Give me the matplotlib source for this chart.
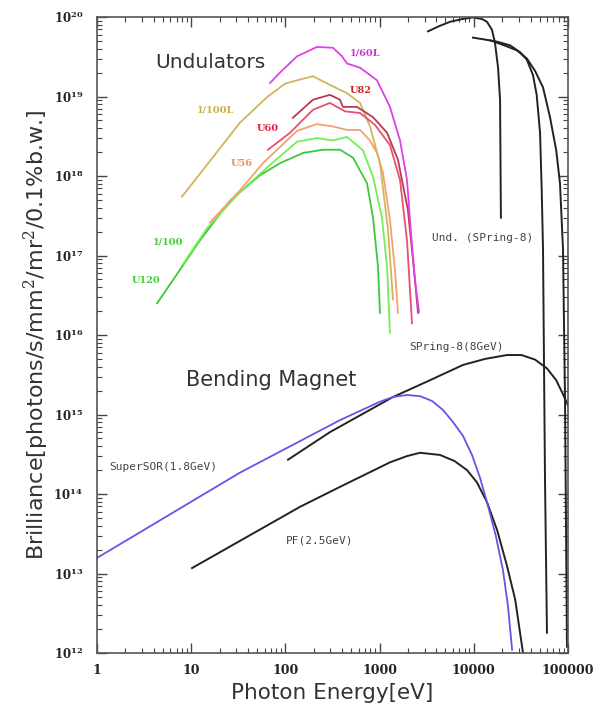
import math
import matplotlib
matplotlib.use("Agg")
import matplotlib.pyplot as plt
from matplotlib.ticker import FuncFormatter, LogLocator, FixedLocator, NullFormatter

plt.rcParams['mathtext.fontset'] = 'dejavuserif'

# ---------------- data (energy in eV, brilliance) ----------------
# Undulators
u60l_E = [68.7, 87.6, 133, 216, 320, 399, 451, 620, 938, 1288, 1648, 1954, 2155, 2377, 2620]
u60l_B = [1.48e19, 2.0e19, 3.2e19, 4.2e19, 4.1e19, 3.2e19, 2.6e19, 2.3e19, 1.6e19, 7.4e18,
          2.8e18, 8.9e17, 1.9e17, 4.9e16, 1.95e16]

u100l_E = [7.98, 33.0, 63.8, 99, 133, 196, 297, 451, 620, 791, 1009, 1228, 1388]
u100l_B = [5.5e17, 4.7e18, 9.8e18, 1.45e19, 1.6e19, 1.8e19, 1.4e19, 1.1e19, 8.3e18, 4.2e18,
           1.45e18, 2.1e17, 2.8e16]

u82_E = [120, 196, 297, 380, 408, 575, 851, 1200, 1567, 2000, 2317, 2558]
u82_B = [5.4e18, 9.1e18, 1.05e19, 9.1e18, 7.4e18, 7.4e18, 5.5e18, 3.5e18, 1.6e18, 3.7e17,
         6.6e16, 1.9e16]

u60_E = [65.3, 112, 196, 297, 430, 620, 893, 1288, 1648, 1954, 2208]
u60_B = [2.14e18, 3.5e18, 6.8e18, 8.3e18, 6.5e18, 6.2e18, 4.4e18, 2.45e18, 8.9e17, 1.55e17, 1.4e16]

u56_E = [15.8, 33.0, 57.8, 133, 216, 320, 451, 620, 791, 938, 1086, 1288, 1455, 1567]
u56_B = [2.6e17, 6.6e17, 1.45e18, 3.7e18, 4.5e18, 4.2e18, 3.8e18, 3.8e18, 2.8e18, 1.95e18,
         1.1e18, 2.8e17, 6.6e16, 1.9e16]

u100_E = [8.18, 14.7, 33.0, 68.7, 133, 216, 320, 451, 667, 851, 1059, 1200, 1288]
u100_B = [7.8e16, 2.2e17, 6.3e17, 1.38e18, 2.7e18, 3.0e18, 2.8e18, 3.1e18, 2.1e18, 9.8e17,
          3.0e17, 7.2e16, 1.07e16]

u120_E = [4.34, 12.4, 25.8, 53.7, 87.7, 154, 251, 380, 522, 735, 851, 962, 1009]
u120_B = [2.5e16, 1.55e17, 4.9e17, 1.02e18, 1.45e18, 1.95e18, 2.14e18, 2.14e18, 1.7e18, 8.1e17,
          3.0e17, 7.2e16, 1.9e16]

# SPring-8 undulator
spu1_E = [3266, 4310, 5590, 7470, 9810, 12300, 13800, 15600, 16800, 18100, 19000, 19400]
spu1_B = [6.6e19, 7.7e19, 8.7e19, 9.4e19, 9.9e19, 9.4e19, 8.7e19, 6.9e19, 4.7e19, 2.3e19,
          9.1e18, 3.0e17]

spu2_E = [9810, 13150, 17600, 24300, 31000, 36600, 42500, 46500, 50500, 52600, 54300, 57000, 59800]
spu2_B = [5.5e19, 5.2e19, 4.9e19, 4.4e19, 3.6e19, 2.9e19, 1.86e19, 1.05e19, 3.5e18, 6.6e17,
          1.2e17, 1.5e14, 1.8e12]

spu3_E = [14900, 21000, 28800, 36600, 44700, 54300, 64400, 75000, 82200, 88500, 93000, 97500]
spu3_B = [5.1e19, 4.4e19, 3.8e19, 3.0e19, 2.1e19, 1.3e19, 5.5e18, 2.1e18, 8.1e17, 1.2e17,
          1.5e15, 1.2e12]

# Bending magnets
sp8_E = [106.6, 297, 1388, 3430, 7670, 13150, 22500, 32000, 44700, 59800, 75000, 87300, 100000]
sp8_B = [2.7e14, 6.0e14, 1.66e15, 2.7e15, 4.2e15, 5.0e15, 5.6e15, 5.6e15, 4.9e15, 3.8e15,
         2.7e15, 1.86e15, 1.3e15]

sor_E = [1, 33, 380, 1010, 1388, 1954, 2685, 3600, 4680, 5980, 7670, 9570, 11650, 14100,
         17100, 20400, 23000, 25500]
sor_B = [1.57e13, 1.86e14, 8.5e14, 1.45e15, 1.66e15, 1.76e15, 1.7e15, 1.48e15, 1.15e15, 8.1e14,
         5.4e14, 3.1e14, 1.6e14, 7.2e13, 3.0e13, 1.1e13, 4.0e12, 1.1e12]

pf_E = [10.2, 143, 380, 1288, 1954, 2685, 4375, 6240, 8470, 10800, 13800, 17700, 22300,
        27500, 33300]
pf_B = [1.17e13, 6.9e13, 1.23e14, 2.5e14, 3.0e14, 3.3e14, 3.1e14, 2.6e14, 2.0e14, 1.4e14,
        7.9e13, 3.5e13, 1.3e13, 4.7e12, 1.0e12]

x_ticks = [1, 10, 100, 1000, 10000, 100000]
x_tick_labels = ["1", "10", "100", "1000", "10000", "100000"]
y_exps = [12, 13, 14, 15, 16, 17, 18, 19, 20]

# ---------------- figure ----------------
fig = plt.figure(figsize=(6.04, 7.16), dpi=100)
ax = fig.add_axes([97/604, 1-653/716, 471/604, 636/716])
ax.set_xscale('log')
ax.set_yscale('log')
ax.set_xlim(1, 1e5)
ax.set_ylim(1e12, 1e20)

lw = 1.3
ax.plot(u120_E, u120_B, color='#3cc83c', lw=lw)
ax.plot(u100_E, u100_B, color='#74ee55', lw=lw)
ax.plot(u56_E, u56_B, color='#f5a070', lw=lw)
ax.plot(u100l_E, u100l_B, color='#d2b45a', lw=lw)
ax.plot(u60_E, u60_B, color='#e8506e', lw=lw)
ax.plot(u82_E, u82_B, color='#b83a55', lw=lw)
ax.plot(u60l_E, u60l_B, color='#e040e8', lw=lw)

for E, B in [(spu1_E, spu1_B), (spu2_E, spu2_B), (spu3_E, spu3_B)]:
    ax.plot(E, B, color='#222222', lw=1.4)

ax.plot(sp8_E, sp8_B, color='#222222', lw=1.4)
ax.plot(pf_E, pf_B, color='#222222', lw=1.4)
ax.plot(sor_E, sor_B, color='#6e50e6', lw=1.3)

# ---------------- ticks ----------------
ax.xaxis.set_major_locator(FixedLocator(x_ticks))
ax.set_xticklabels(x_tick_labels)
ax.yaxis.set_major_locator(FixedLocator([10.0**e for e in y_exps]))
ax.yaxis.set_major_formatter(FuncFormatter(
    lambda v, p: r'$\mathbf{10}^{\mathbf{%d}}$' % round(math.log10(v))))
ax.xaxis.set_minor_locator(LogLocator(base=10, subs=range(2, 10), numticks=20))
ax.yaxis.set_minor_locator(LogLocator(base=10, subs=range(2, 10), numticks=20))
ax.xaxis.set_minor_formatter(NullFormatter())
ax.yaxis.set_minor_formatter(NullFormatter())

ax.tick_params(which='both', direction='in', top=True, right=True, colors='#444444')
ax.tick_params(which='major', length=7, width=1.0)
ax.tick_params(which='minor', length=3.5, width=0.8)
ax.tick_params(axis='x', which='major', pad=8, labelsize=9, labelcolor='#222222')
ax.tick_params(axis='y', which='major', pad=10, labelsize=8.5, labelcolor='#222222')
for lab in ax.get_xticklabels():
    lab.set_fontfamily('DejaVu Serif')
    lab.set_fontweight('bold')
for sp in ax.spines.values():
    sp.set_color('#555555')
    sp.set_linewidth(1.2)

ax.set_xlabel('Photon Energy[eV]', fontsize=15.5, color='#333333', labelpad=4)
ax.set_ylabel('Brilliance[photons/s/mm$^2$/mr$^2$/0.1%b.w.]', fontsize=16, color='#333333',
              labelpad=2)

# ---------------- annotations ----------------
ax.text(15.8, 2.7e19, 'Undulators', fontsize=14.5, color='#333333', ha='center', va='center')
ax.text(70.3, 2.7e15, 'Bending Magnet', fontsize=15, color='#333333', ha='center', va='center')

lab_kw = dict(fontsize=7, fontfamily='DejaVu Serif', fontweight='bold', ha='center', va='center')
ax.text(700, 3.5e19, '1/60L', color='#d030d8', **lab_kw)
ax.text(635, 1.2e19, 'U82', color='#c82828', **lab_kw)
ax.text(18.3, 6.8e18, '1/100L', color='#c8b040', **lab_kw)
ax.text(65, 4.0e18, 'U60', color='#e02040', **lab_kw)
ax.text(34.6, 1.45e18, 'U56', color='#f09050', **lab_kw)
ax.text(5.7, 1.5e17, '1/100', color='#40d030', **lab_kw)
ax.text(3.3, 4.9e16, 'U120', color='#40d030', **lab_kw)

mono_kw = dict(fontsize=8, fontfamily='DejaVu Sans Mono', color='#444444', ha='center', va='center')
ax.text(12500, 1.66e17, 'Und. (SPring-8)', **mono_kw)
ax.text(6630, 7.1e15, 'SPring-8(8GeV)', **mono_kw)
ax.text(5.1, 2.2e14, 'SuperSOR(1.8GeV)', **mono_kw)
ax.text(233, 2.6e13, 'PF(2.5GeV)', **mono_kw)

fig.savefig('out.png', dpi=100)
